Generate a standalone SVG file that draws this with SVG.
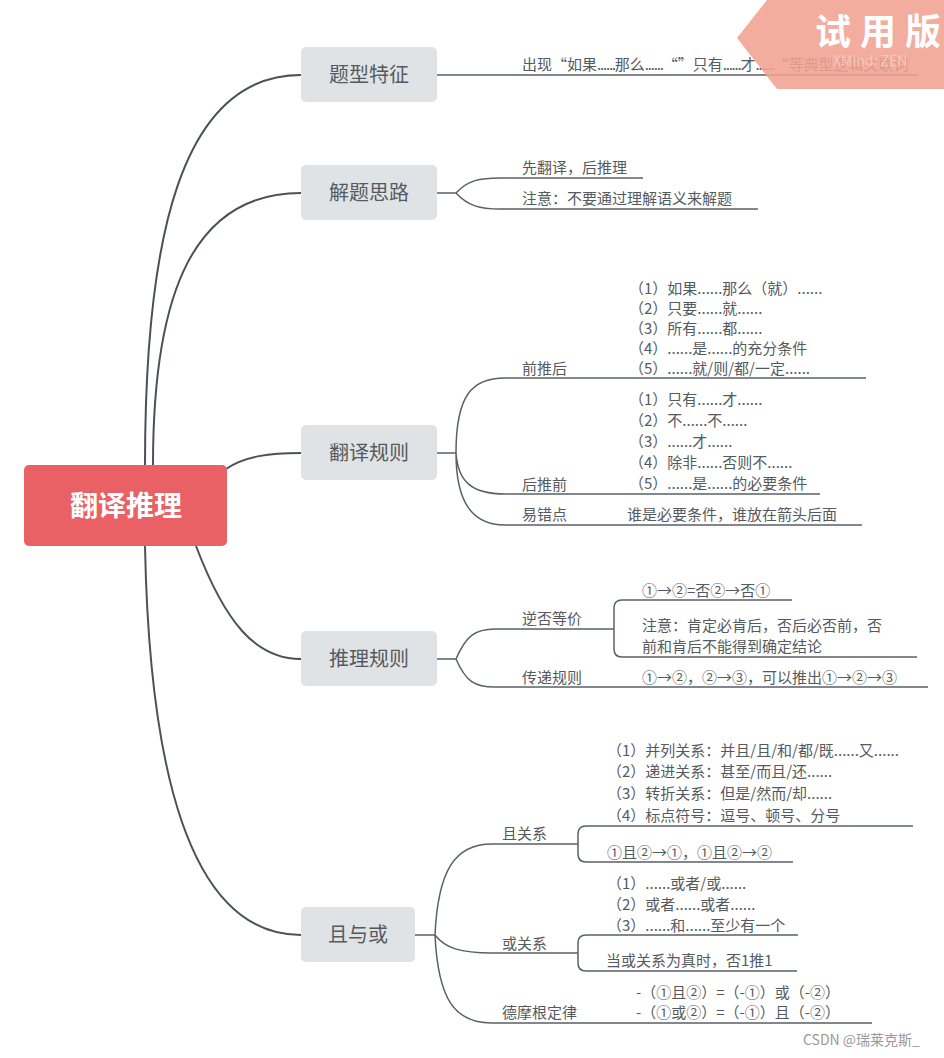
<svg xmlns="http://www.w3.org/2000/svg" width="944" height="1058" viewBox="0 0 944 1058">
<style>
text{font-family:"Noto Sans CJK SC","Noto Sans",sans-serif;fill:#555a5e}
.main{font-size:20px;text-anchor:middle}
.sub{font-size:15px}
.d{letter-spacing:-1.2px}
.con{fill:none;stroke:#4b5158;stroke-width:2}
.ln{fill:none;stroke:#5a6068;stroke-width:1.5}
.node{fill:#dfe3e6}
</style>
<rect width="944" height="1058" fill="#ffffff"/>
<g id="connectors">
<path class="con" d="M145,465 C145,240 180,75 301,75"/>
<path class="con" d="M153,465 C153,290 195,193 301,193"/>
<path class="con" d="M226,469 C245,456 270,453 301,453"/>
<path class="con" d="M196,546 C225,622 255,659 301,659"/>
<path class="con" d="M145,546 C150,800 200,935 301,935"/>
<path class="ln" d="M437,75 H918"/>
<path class="ln" d="M437,193 H456 M456,193 C468,180 480,178 500,178 H643 M456,193 C468,206 480,209 500,209 H758"/>
<path class="ln" d="M437,453 H456 M456,453 C456,395 472,378 505,378 H866 M456,453 C458,482 472,494 505,494 H820 M456,453 C456,502 472,525 505,525 H862"/>
<path class="ln" d="M437,659 H456 M456,659 C466,636 475,629 495,629 H614 M614,629 V608 Q614,600 622,600 H792 M614,629 V649 Q614,657 622,657 H917 M456,659 C466,682 475,687 495,687 H928"/>
<path class="ln" d="M415,935 H435 M435,935 C438,870 455,844 492,844 H578 M578,844 V834 Q578,826 586,826 H913 M578,844 V854 Q578,862 586,862 H793 M435,935 C445,948 460,953 492,953 H578 M578,953 V943 Q578,935 586,935 H798 M578,953 V963 Q578,971 586,971 H797 M435,935 C438,1000 455,1023 492,1023 H872"/>
</g>
<g id="root">
<rect x="24" y="465" width="203" height="81" rx="5" fill="#e96164"/>
<text x="126" y="516" style="font-size:28px;font-weight:bold;fill:#ffffff;text-anchor:middle">翻译推理</text>
</g>
<g id="n1">
<rect class="node" x="301" y="47" width="136" height="55" rx="5"/>
<text class="main" x="369" y="82">题型特征</text>
<text class="sub" x="522" y="70">出现“如果<tspan class="d">......</tspan>那么<tspan class="d">......</tspan>“”只有<tspan class="d">......</tspan>才<tspan class="d">......</tspan>“等典型逻辑关联词</text>
</g>
<g id="n2">
<rect class="node" x="301" y="165" width="136" height="55" rx="5"/>
<text class="main" x="369" y="200">解题思路</text>
<text class="sub" x="522" y="173">先翻译，后推理</text>
<text class="sub" x="522" y="204">注意：不要通过理解语义来解题</text>
</g>
<g id="n3">
<rect class="node" x="301" y="425" width="136" height="55" rx="5"/>
<text class="main" x="369" y="460">翻译规则</text>
<text class="sub" x="522" y="374">前推后</text>
<text class="sub" x="629" y="294">（1）如果......那么（就）......</text>
<text class="sub" x="629" y="314">（2）只要......就......</text>
<text class="sub" x="629" y="334">（3）所有......都......</text>
<text class="sub" x="629" y="354">（4）......是......的充分条件</text>
<text class="sub" x="629" y="374">（5）......就/则/都/一定......</text>
<text class="sub" x="522" y="490">后推前</text>
<text class="sub" x="629" y="405">（1）只有......才......</text>
<text class="sub" x="629" y="426">（2）不......不......</text>
<text class="sub" x="629" y="447">（3）......才......</text>
<text class="sub" x="629" y="468">（4）除非......否则不......</text>
<text class="sub" x="629" y="489">（5）......是......的必要条件</text>
<text class="sub" x="522" y="520">易错点</text>
<text class="sub" x="627" y="520">谁是必要条件，谁放在箭头后面</text>
</g>
<g id="n4">
<rect class="node" x="301" y="631" width="136" height="55" rx="5"/>
<text class="main" x="369" y="666">推理规则</text>
<text class="sub" x="522" y="624">逆否等价</text>
<text class="sub" x="642" y="596">①→②=否②→否①</text>
<text class="sub" x="642" y="631">注意：肯定必肯后，否后必否前，否</text>
<text class="sub" x="642" y="652">前和肯后不能得到确定结论</text>
<text class="sub" x="522" y="683">传递规则</text>
<text class="sub" x="642" y="683">①→②，②→③，可以推出①→②→③</text>
</g>
<g id="n5">
<rect class="node" x="301" y="907" width="114" height="55" rx="5"/>
<text class="main" x="358" y="942">且与或</text>
<text class="sub" x="502" y="839">且关系</text>
<text class="sub" x="607" y="756">（1）并列关系：并且/且/和/都/既......又......</text>
<text class="sub" x="607" y="777">（2）递进关系：甚至/而且/还......</text>
<text class="sub" x="607" y="799">（3）转折关系：但是/然而/却......</text>
<text class="sub" x="607" y="821">（4）标点符号：逗号、顿号、分号</text>
<text class="sub" x="607" y="858">①且②→①，①且②→②</text>
<text class="sub" x="502" y="949">或关系</text>
<text class="sub" x="607" y="889">（1）......或者/或......</text>
<text class="sub" x="607" y="910">（2）或者......或者......</text>
<text class="sub" x="607" y="931">（3）......和......至少有一个</text>
<text class="sub" x="606" y="966">当或关系为真时，否1推1</text>
<text class="sub" x="502" y="1018">德摩根定律</text>
<text class="sub" x="636" y="998">-（①且②）=（-①）或（-②）</text>
<text class="sub" x="636" y="1018">-（①或②）=（-①）且（-②）</text>
</g>
<g id="watermark">
<polygon points="767,0 944,0 944,89 777,89 737,38" fill="#f0a292" opacity="0.88"/>
<text x="815" y="45" style="font-size:36px;font-weight:bold;fill:#ffffff;letter-spacing:9px">试用版</text>
<text x="833" y="66" style="font-size:14px;fill:#f6c8bd">XMind: ZEN</text>
</g>
<text x="803" y="1045" style="font-size:14px;fill:#9a9a9a">CSDN @瑞莱克斯_</text>
</svg>
